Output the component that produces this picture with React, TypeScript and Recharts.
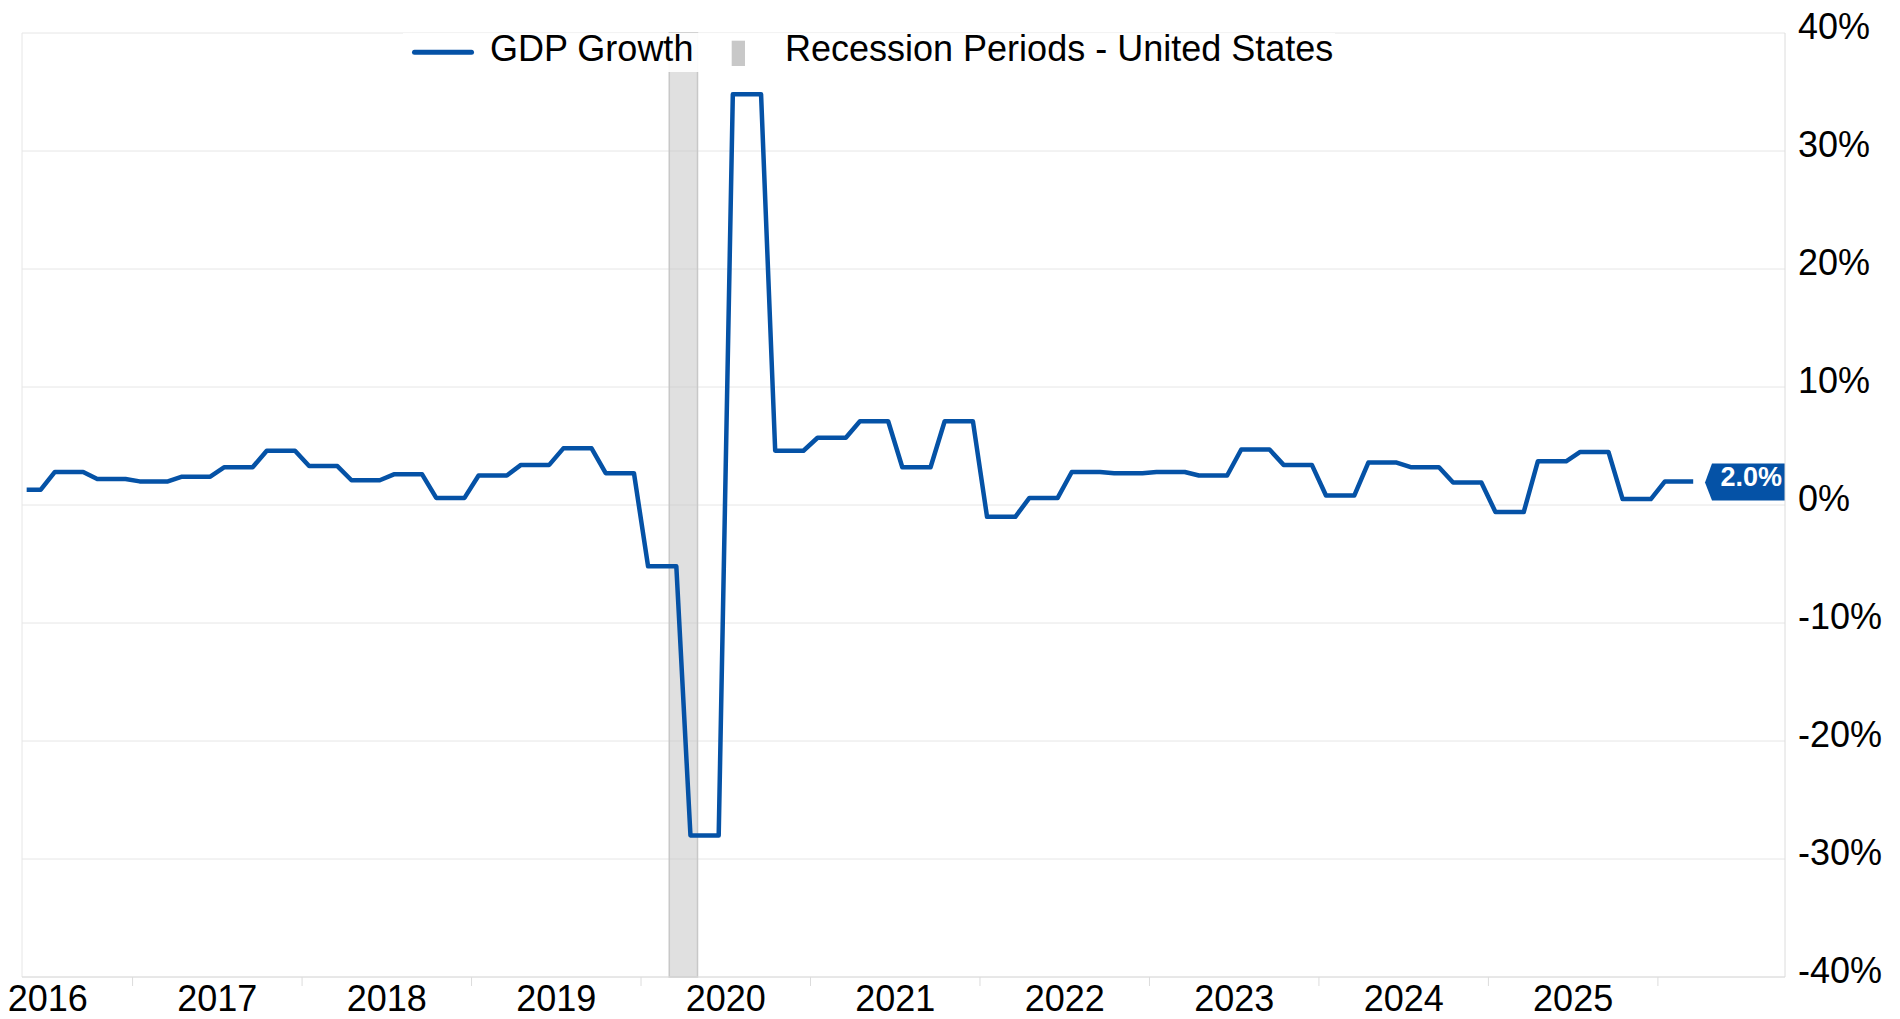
import React from 'react';
import { LineChart, Line, XAxis, YAxis, CartesianGrid, ReferenceArea, ReferenceLine } from 'recharts';

// ---- Data (quarterly real GDP growth, annualized %, United States) ----
const quarterLabels = [
  '2016 Q2', '2016 Q3', '2016 Q4',
  '2017 Q1', '2017 Q2', '2017 Q3', '2017 Q4',
  '2018 Q1', '2018 Q2', '2018 Q3', '2018 Q4',
  '2019 Q1', '2019 Q2', '2019 Q3', '2019 Q4',
  '2020 Q1', '2020 Q2', '2020 Q3', '2020 Q4',
  '2021 Q1', '2021 Q2', '2021 Q3', '2021 Q4',
  '2022 Q1', '2022 Q2', '2022 Q3', '2022 Q4',
  '2023 Q1', '2023 Q2', '2023 Q3', '2023 Q4',
  '2024 Q1', '2024 Q2', '2024 Q3', '2024 Q4',
  '2025 Q1', '2025 Q2', '2025 Q3', '2025 Q4',
  '2026 Q1',
];
const gdpGrowth = [
  1.3, 2.8, 2.2,
  2.0, 2.4, 3.2, 4.6,
  3.3, 2.1, 2.6, 0.6,
  2.5, 3.4, 4.8, 2.7,
  -5.2, -28.0, 34.8, 4.6,
  5.7, 7.1, 3.2, 7.1,
  -1.0, 0.6, 2.8, 2.7,
  2.8, 2.5, 4.7, 3.4,
  0.8, 3.6, 3.2, 1.9,
  -0.6, 3.7, 4.5, 0.5,
  2.0,
];
// months counted from January 2016 (0 = Jan 2016)
const firstQuarterStartMonth = 3; // Q2 2016 begins in April 2016
const seriesStartMonth = 4; // series shown from May 2016
const recessionStartMonth = 50; // March 2020
const recessionEndMonth = 52; // through April 2020
const yearLabels = ['2016', '2017', '2018', '2019', '2020', '2021', '2022', '2023', '2024', '2025'];
const yTicks = [-40, -30, -20, -10, 0, 10, 20, 30, 40];
const xDomain = [4.17, 129];

// table for the library: each quarter's value held over its months
const rows: any[] = [];
gdpGrowth.forEach((v, i) => {
  for (let k = 0; k < 3; k++) {
    const m = firstQuarterStartMonth + 3 * i + k;
    if (m < seriesStartMonth) continue;
    rows.push({ t: m + 0.5, gdp: v, quarter: quarterLabels[i] });
  }
});
const lastValue = gdpGrowth[gdpGrowth.length - 1];
const labelTicks = yearLabels.map((_, i) => 12 * i + 6);
const boundaryTicks = yearLabels.map((_, i) => 12 * (i + 1));
const xTicks = [...labelTicks, ...boundaryTicks].sort((a, b) => a - b);

// ---- Style ----
const W = 1900;
const H = 1019;
const BLUE = '#0552a6';
const FONT = '"Liberation Sans", Arial, Helvetica, sans-serif';
const M = { top: 33, right: 0, bottom: 0, left: 22 };
const Y_AXIS_W = 115;
const X_AXIS_H = 42;

const XTick = (props: any) => {
  const { x, y, payload } = props;
  const v = payload.value;
  if (v % 12 === 0) {
    return <line x1={x} x2={x} y1={y} y2={y + 9} stroke="#dcdcdc" strokeWidth={1} />;
  }
  const label = yearLabels[(v - 6) / 12];
  return (
    <text x={x} y={y + 34} textAnchor="middle" fontSize={36} fill="#000" fontFamily={FONT}>
      {label}
    </text>
  );
};

const YTick = (props: any) => {
  const { x, y, payload } = props;
  return (
    <text x={x + 13} y={y + 6} textAnchor="start" fontSize={36} fill="#000" fontFamily={FONT}>
      {`${payload.value}%`}
    </text>
  );
};

const Badge = (props: any) => {
  const vb = props.viewBox || {};
  const right = (vb.x || 0) + (vb.width || 0);
  const cy = vb.y || 0;
  const left = right - 80;
  const pts = [
    [left, cy + 1],
    [left + 7, cy - 18],
    [right, cy - 18],
    [right, cy + 19],
    [left + 7, cy + 19],
  ]
    .map((p) => p.join(','))
    .join(' ');
  return (
    <g>
      <polygon points={pts} fill={BLUE} />
      <text x={right - 3} y={cy + 5} textAnchor="end" fontSize={27} fontWeight="bold" fill="#fff" fontFamily={FONT}>
        {`${lastValue.toFixed(1)}%`}
      </text>
    </g>
  );
};

// legend box: 932 x 39 at (403, 33); the svg is taller so text boxes are not clipped
const LegendBox = () => (
  <svg width={932} height={56} style={{ position: 'absolute', left: 403, top: 25, overflow: 'visible' }}>
    <rect x={0} y={8} width={932} height={39} fill="#fff" fillOpacity={0.93} />
    <line x1={11.5} x2={68.5} y1={27.3} y2={27.3} stroke={BLUE} strokeWidth={5} strokeLinecap="round" />
    <text x={87} y={35.7} fontSize={36} fill="#000" fontFamily={FONT}>
      GDP Growth
    </text>
    <rect x={328.7} y={15.7} width={13.3} height={25.3} fill="#c8c8c8" />
    <text x={382} y={35.7} fontSize={36} fill="#000" fontFamily={FONT}>
      Recession Periods - United States
    </text>
  </svg>
);

export default function App() {
  return (
    <div style={{ position: 'absolute', left: 0, top: 0, width: W, height: H, background: '#fff' }}>
      <LineChart width={W} height={H} data={rows} margin={M}>
        <CartesianGrid
          stroke="#e6e6e6"
          strokeWidth={1}
          vertical={true}
          verticalCoordinatesGenerator={(p: any) => {
            const o = p && p.offset;
            return o ? [o.left] : [M.left];
          }}
        />
        <XAxis
          dataKey="t"
          type="number"
          domain={xDomain}
          allowDataOverflow
          ticks={xTicks}
          interval={0}
          tickLine={false}
          tickSize={0}
          tickMargin={0}
          tick={<XTick />}
          axisLine={{ stroke: '#dcdcdc', strokeWidth: 1 }}
          height={X_AXIS_H}
        />
        <YAxis
          orientation="right"
          type="number"
          domain={[-40, 40]}
          ticks={yTicks}
          interval={0}
          tickLine={false}
          tickSize={0}
          tickMargin={0}
          tick={<YTick />}
          axisLine={{ stroke: '#dcdcdc', strokeWidth: 1 }}
          width={Y_AXIS_W}
        />
        <ReferenceArea
          x1={recessionStartMonth}
          x2={recessionEndMonth}
          fill="#c4c4c4"
          fillOpacity={0.52}
          stroke="#c8c8c8"
          strokeWidth={1.5}
        />
        <Line
          type="linear"
          dataKey="gdp"
          stroke={BLUE}
          strokeWidth={4.5}
          strokeLinejoin="round"
          dot={false}
          activeDot={false}
          isAnimationActive={false}
        />
        <ReferenceLine y={lastValue} stroke="transparent" strokeWidth={0} label={<Badge />} />
      </LineChart>
      <LegendBox />
    </div>
  );
}
